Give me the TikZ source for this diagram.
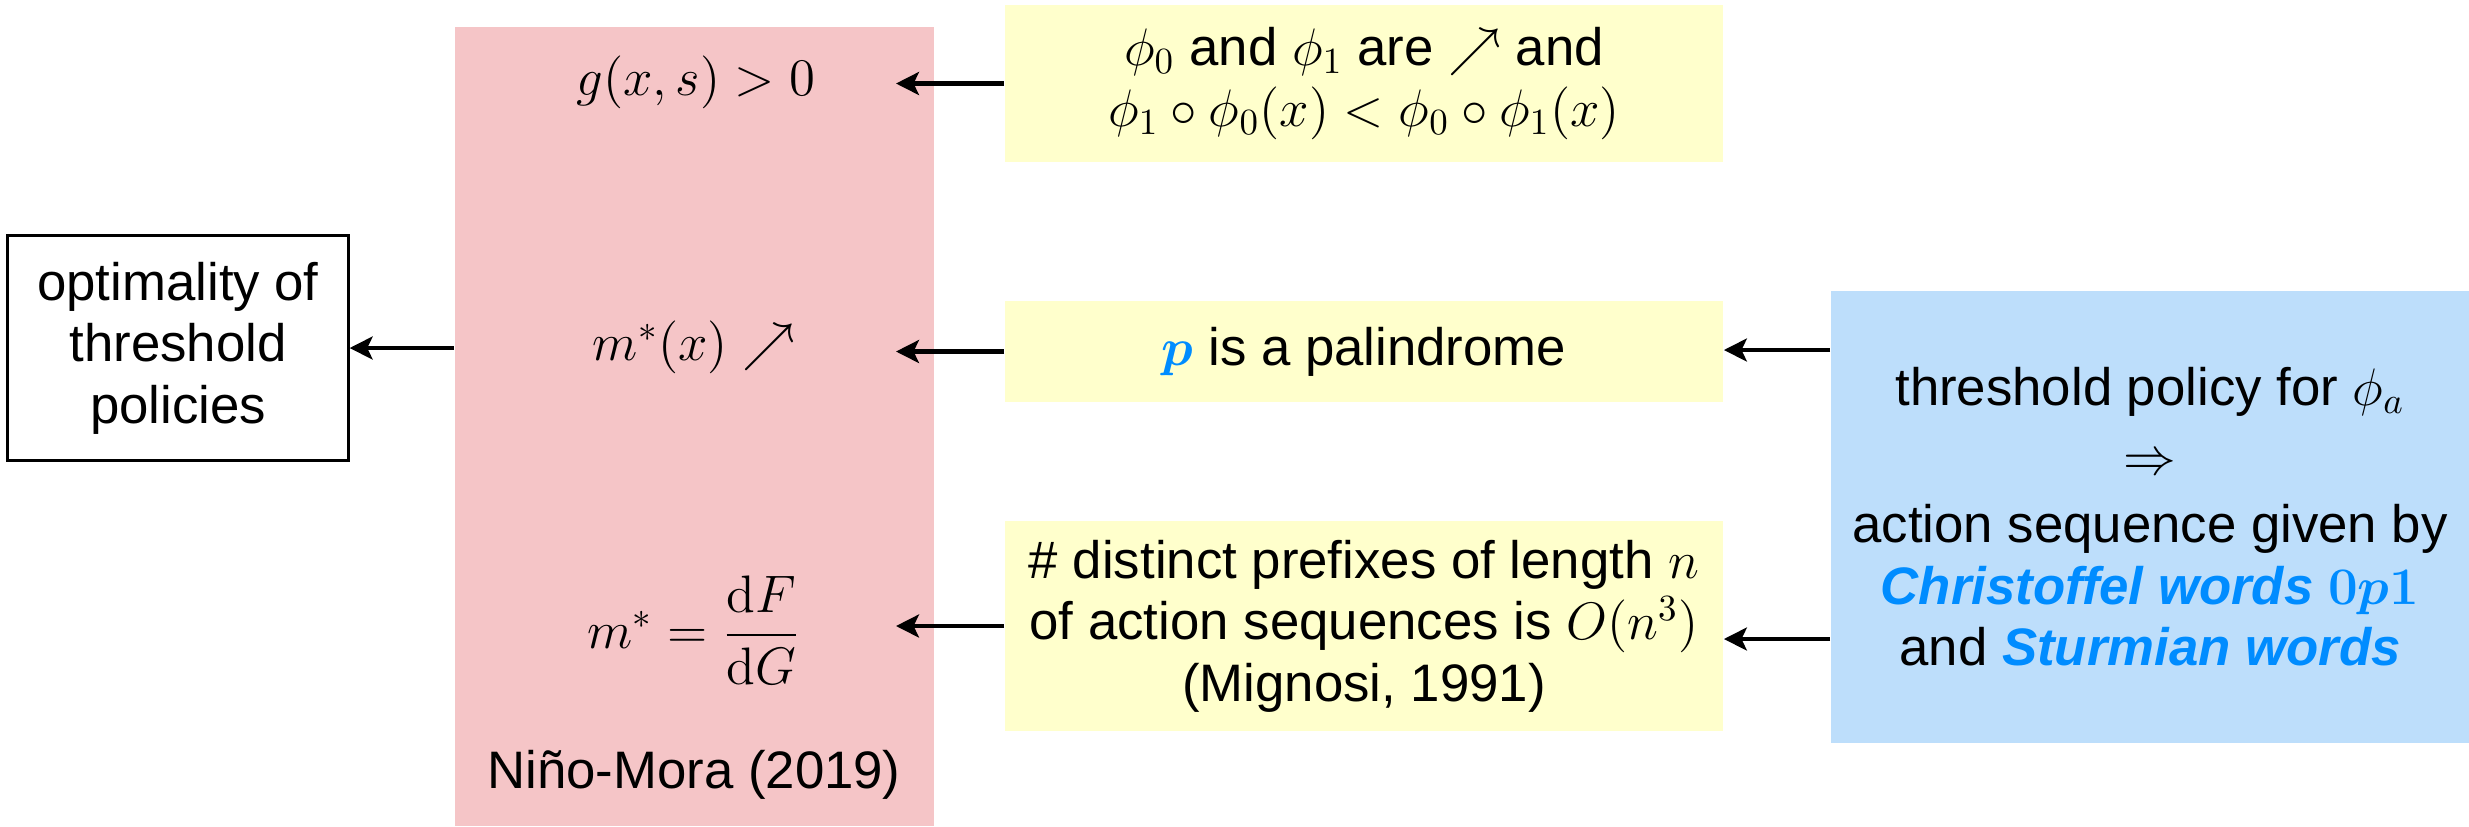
\RequirePackage{fix-cm}
\documentclass[tikz,border=0pt]{standalone}
\usepackage{amsmath,bm}
\usepackage[no-math]{fontspec}
\setmainfont{Liberation Sans}
\usetikzlibrary{arrows.meta}
\definecolor{pinkbg}{RGB}{245,197,199}
\definecolor{yellowbg}{RGB}{255,255,204}
\definecolor{bluebg}{RGB}{189,222,251}
\definecolor{txtblue}{RGB}{0,140,255}
\begin{document}
\begin{tikzpicture}[x=0.01cm,y=-0.01cm,
  font=\fontsize{15}{17.5}\selectfont,
  arr/.style={line width=1.2pt,-{Stealth[length=6.5pt,width=6.5pt,inset=1.5pt]}},
  ybox/.style={fill=yellowbg,inner sep=0pt,minimum width=7.18cm,align=center},
  ptext/.style={inner sep=1pt}]
\path[use as bounding box] (0,0) rectangle (2469,826);
\node[draw,line width=0.9pt,minimum width=3.4cm,minimum height=2.25cm,inner sep=0pt,align=center] (opt) at (178,348) {optimality of\\threshold\\policies};
\node[fill=pinkbg,minimum width=4.79cm,minimum height=7.99cm,inner sep=0pt] (pink) at (694.5,426.5) {};
\node[ptext] (g) at (696,82) {$g(x,s) > 0$};
\node[ptext] (mx) at (694,347) {$m^*(x)\nearrow$};
\node[ptext] (mf) at (694,630) {$m^* = \dfrac{\mathrm{d}F}{\mathrm{d}G}$};
\node[ptext] (nm) at (694,775) {Niño-Mora (2019)};
\node[ybox,minimum height=1.57cm] (y1) at (1364,83.5) {$\phi_0$ and $\phi_1$ are $\nearrow$ and\\$\phi_1\circ\phi_0(x) < \phi_0\circ\phi_1(x)$};
\node[ybox,minimum height=1.01cm] (y2) at (1364,351.5) {{\color{txtblue}$\bm{p}$} is a palindrome};
\node[ybox,minimum height=2.09cm] (y3) at (1364,626) {\# distinct prefixes of length $n$\\of action sequences is $O(n^3)$\\(Mignosi, 1991)};
\node[fill=bluebg,minimum width=6.38cm,minimum height=4.52cm,inner sep=0pt,align=center] (blue) at (2150,517) {threshold policy for $\phi_a$\\[2pt]$\Rightarrow$\\[2pt]action sequence given by\\{\color{txtblue}\textbf{\textit{Christoffel words}} $\mathbf{0}\bm{p}\mathbf{1}$}\\and {\color{txtblue}\textbf{\textit{Sturmian words}}}};
\coordinate (tx) at (896,0);
\coordinate (r2) at (0,350);
\coordinate (r3) at (0,639);
\draw[arr] (y1.west) -- (y1.west -| tx);
\draw[arr] (y2.west) -- (y2.west -| tx);
\draw[arr] (y3.west) -- (y3.west -| tx);
\draw[arr] (pink.west |- opt.east) -- (opt.east);
\draw[arr] (blue.west |- r2) -- (y2.east |- r2);
\draw[arr] (blue.west |- r3) -- (y3.east |- r3);
\end{tikzpicture}
\end{document}
